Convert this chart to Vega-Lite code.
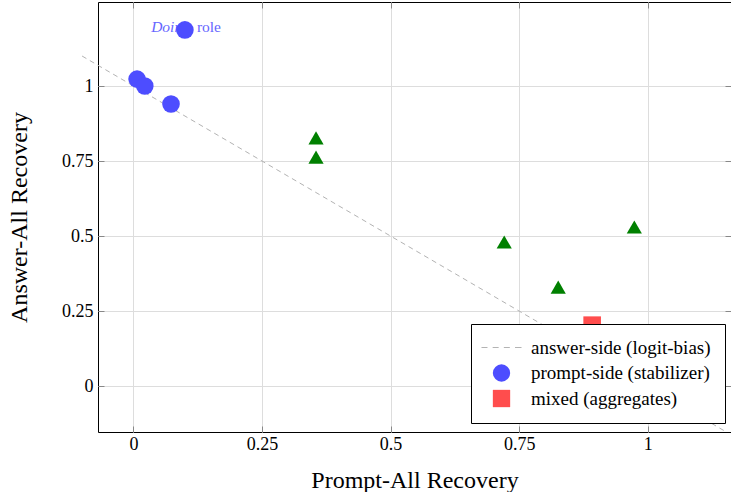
{
  "$schema": "https://vega.github.io/schema/vega-lite/v6.json",
  "width": 633,
  "height": 430,
  "autosize": {"type": "none"},
  "padding": {"left": 98, "top": 2, "right": 0, "bottom": 60},
  "background": "white",
  "config": {
    "view": {"stroke": "black", "strokeWidth": 1},
    "font": "Liberation Serif",
    "axis": {
      "domain": false,
      "grid": true,
      "gridColor": "#dddddd",
      "gridWidth": 1,
      "tickColor": "#888888",
      "tickSize": -6,
      "labelFont": "Liberation Serif",
      "labelFontSize": 18,
      "labelColor": "black",
      "titleFont": "Liberation Serif",
      "titleFontSize": 24,
      "titleFontWeight": "normal",
      "titleColor": "black"
    }
  },
  "datasets": {
    "diag": [{"x": -0.1, "y": 1.1}, {"x": 1.15, "y": -0.15}],
    "tri": [
      {"x": 0.355, "y": 0.827},
      {"x": 0.355, "y": 0.763},
      {"x": 0.721, "y": 0.48},
      {"x": 0.826, "y": 0.33},
      {"x": 0.974, "y": 0.53}
    ],
    "pts": [
      {"x": 0.007, "y": 1.023, "series": "prompt-side (stabilizer)"},
      {"x": 0.022, "y": 1.0, "series": "prompt-side (stabilizer)"},
      {"x": 0.073, "y": 0.94, "series": "prompt-side (stabilizer)"},
      {"x": 0.1, "y": 1.187, "series": "prompt-side (stabilizer)"},
      {"x": 0.892, "y": 0.203, "series": "mixed (aggregates)"}
    ],
    "lab": [{"x": 0.1, "y": 1.187, "italic": "Doing", "plain": "role"}]
  },
  "layer": [
    {
      "data": {"name": "diag"},
      "mark": {"type": "line", "clip": false, "color": "#b3b3b3", "strokeDash": [5, 4], "strokeWidth": 1},
      "encoding": {
        "x": {
          "field": "x", "type": "quantitative",
          "scale": {"domain": [-0.069, 1.162], "nice": false, "zero": false},
          "axis": {"orient": "bottom", "values": [0, 0.25, 0.5, 0.75, 1], "labelExpr": "datum.value + ''", "title": "Prompt-All Recovery", "labelPadding": 9, "titlePadding": 15}
        },
        "y": {
          "field": "y", "type": "quantitative",
          "scale": {"domain": [-0.153, 1.28], "nice": false, "zero": false},
          "axis": {"orient": "left", "values": [0, 0.25, 0.5, 0.75, 1], "labelExpr": "datum.value + ''", "title": "Answer-All Recovery", "labelPadding": 11, "titlePadding": 30}
        }
      }
    },
    {
      "data": {"name": "tri"},
      "mark": {"type": "point", "shape": "triangle-up", "filled": true, "opacity": 1, "color": "#008000", "size": 230},
      "encoding": {
        "x": {"field": "x", "type": "quantitative", "axis": {"orient": "top", "values": [0, 0.25, 0.5, 0.75, 1], "labels": false, "title": null, "grid": false}},
        "y": {"field": "y", "type": "quantitative", "axis": {"orient": "right", "values": [0, 0.25, 0.5, 0.75, 1], "labels": false, "title": null, "grid": false}}
      }
    },
    {
      "data": {"name": "lab"},
      "mark": {"type": "text", "align": "right", "baseline": "middle", "dx": 5, "dy": -3, "fontStyle": "italic", "fontSize": 15.5, "color": "#6666ff"},
      "encoding": {
        "x": {"field": "x", "type": "quantitative", "axis": null},
        "y": {"field": "y", "type": "quantitative", "axis": null},
        "text": {"field": "italic"}
      }
    },
    {
      "data": {"name": "lab"},
      "mark": {"type": "text", "align": "left", "baseline": "middle", "dx": 12, "dy": -3, "fontSize": 15.5, "color": "#6666ff"},
      "encoding": {
        "x": {"field": "x", "type": "quantitative", "axis": null},
        "y": {"field": "y", "type": "quantitative", "axis": null},
        "text": {"field": "plain"}
      }
    },
    {
      "data": {"name": "pts"},
      "mark": {"type": "point", "filled": true, "opacity": 1, "size": 310, "strokeWidth": 0},
      "encoding": {
        "x": {"field": "x", "type": "quantitative", "axis": null},
        "y": {"field": "y", "type": "quantitative", "axis": null},
        "color": {
          "field": "series", "type": "nominal",
          "scale": {
            "domain": ["answer-side (logit-bias)", "prompt-side (stabilizer)", "mixed (aggregates)"],
            "range": ["#b3b3b3", "#4d4dff", "#ff4d4d"]
          },
          "legend": {
            "title": null,
            "orient": "none",
            "legendX": 373,
            "legendY": 322,
            "strokeColor": "black",
            "fillColor": "white",
            "padding": 14,
            "symbolOffset": 7,
            "labelOffset": 20,
            "labelFont": "Liberation Serif",
            "labelFontSize": 19,
            "labelLimit": 400,
            "labelColor": "black",
            "symbolSize": 300,
            "rowPadding": 5.5,
            "cornerRadius": 0,
            "symbolStrokeWidth": 0,
            "symbolOpacity": 1
          }
        },
        "shape": {
          "field": "series", "type": "nominal",
          "scale": {
            "domain": ["answer-side (logit-bias)", "prompt-side (stabilizer)", "mixed (aggregates)"],
            "range": ["M-2.31,-0.06L-1.62,-0.06L-1.62,0.06L-2.31,0.06Z M-1.02,-0.06L-0.33,-0.06L-0.33,0.06L-1.02,0.06Z M0.27,-0.06L0.96,-0.06L0.96,0.06L0.27,0.06Z M1.56,-0.06L2.31,-0.06L2.31,0.06L1.56,0.06Z", "circle", "square"]
          }
        }
      }
    }
  ],
  "resolve": {"axis": {"x": "independent", "y": "independent"}}
}
